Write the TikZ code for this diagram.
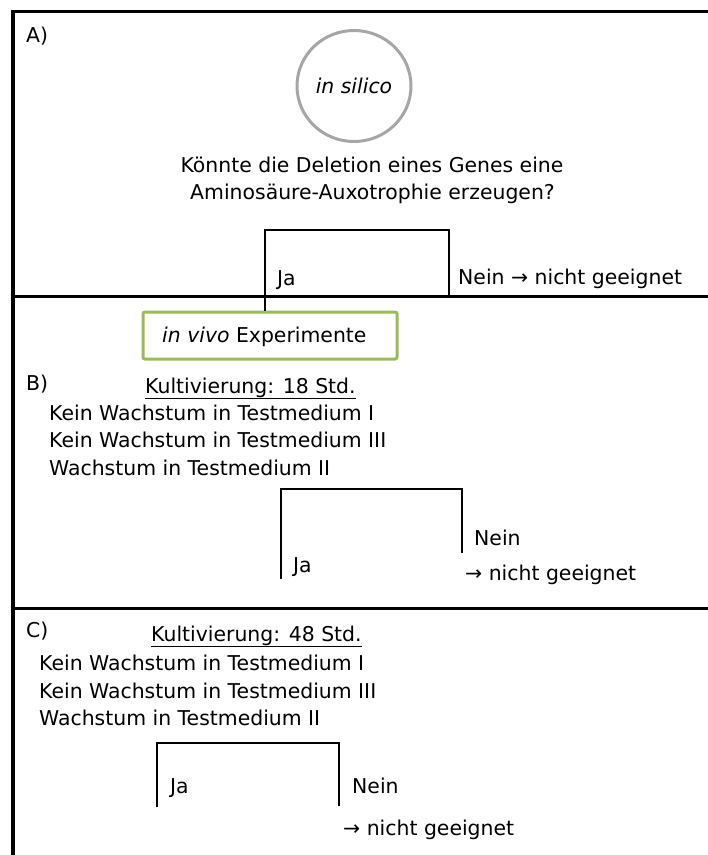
\documentclass[tikz,border=0pt]{standalone}
\usepackage{fontspec}
\setmainfont{DejaVu Sans}
\usetikzlibrary{shapes.geometric}
\definecolor{boxgreen}{RGB}{155,187,89}
\definecolor{circgray}{RGB}{166,166,166}
\tikzset{
  txt/.style={anchor=base west, inner sep=0pt, font=\fontsize{20.4}{24}\selectfont},
  txtc/.style={anchor=base, inner sep=0pt, font=\fontsize{20.4}{24}\selectfont},
  frame/.style={line width=3.5pt, line cap=rect},
  divider/.style={line width=3pt},
  bracket/.style={line width=2.2pt},
}
\begin{document}
\begin{tikzpicture}[x=1pt,y=-1pt]
\useasboundingbox (0,0) rectangle (708,855);
% frame and dividers
\coordinate (tl) at (13,11.5);
\coordinate (tr) at (708,11.5);
\coordinate (bl) at (13,855);
\draw[frame] (tr) -- (tl) -- (bl);
\coordinate (d1l) at (13,296);
\coordinate (d1r) at (708,296);
\coordinate (d2l) at (13,608);
\coordinate (d2r) at (708,608);
\draw[divider] (d1l) -- (d1r);
\draw[divider] (d2l) -- (d2r);

% section A
\node[txt] (lblA) at (26,42) {A)};
\node[ellipse, draw=circgray, line width=3pt, minimum width=114pt, minimum height=111pt, inner sep=0pt,
      font=\fontsize{20.4}{24}\selectfont\itshape] (silico) at (354,86) {in silico};
\node[txtc] (q1) at (372,172) {Könnte die Deletion eines Genes eine};
\node[txtc] (q2) at (372.5,199) {Aminosäure-Auxotrophie erzeugen?};
\node[txt] (jaA) at (277,285) {Ja};
\node[txt] (neinA) at (458,284) {Nein → nicht geeignet};

% in vivo box
\node[draw=boxgreen, line width=3pt, rounded corners=2pt, minimum width=254pt, minimum height=47pt, inner sep=0pt] (vivo) at (270,335.5) {};
\node[txt] (vivotxt) at (162,342) {\textit{in vivo} Experimente};

\coordinate (aTL) at (265,230);
\coordinate (aTR) at (449,230);
\coordinate (aBR) at (449,295);
\draw[bracket] (vivo.north -| aTL) -- (aTL) -- (aTR) -- (aBR);

% section B
\node[txt] (lblB) at (26,390) {B)};
\node[txt] (kB) at (145,393) {\underline{Kultivierung: 18 Std.}};
\node[txt] (b1) at (49,420) {Kein Wachstum in Testmedium I};
\node[txt] (b2) at (49,447) {Kein Wachstum in Testmedium III};
\node[txt] (b3) at (49,475) {Wachstum in Testmedium II};
\coordinate (bBL) at (281,579);
\coordinate (bTL) at (281,489);
\coordinate (bTR) at (462,489);
\coordinate (bBR) at (462,553);
\draw[bracket] (bBL) -- (bTL) -- (bTR) -- (bBR);
\node[txt] (jaB) at (293,572) {Ja};
\node[txt] (neinB) at (474,545) {Nein};
\node[txt] (nichtB) at (465,580) {→ nicht geeignet};

% section C
\node[txt] (lblC) at (26,637) {C)};
\node[txt] (kC) at (151,641) {\underline{Kultivierung: 48 Std.}};
\node[txt] (c1) at (39,670) {Kein Wachstum in Testmedium I};
\node[txt] (c2) at (39,698) {Kein Wachstum in Testmedium III};
\node[txt] (c3) at (39,725) {Wachstum in Testmedium II};
\coordinate (cBL) at (157,807);
\coordinate (cTL) at (157,743);
\coordinate (cTR) at (339,743);
\coordinate (cBR) at (339,806);
\draw[bracket] (cBL) -- (cTL) -- (cTR) -- (cBR);
\node[txt] (jaC) at (170,793) {Ja};
\node[txt] (neinC) at (352,793) {Nein};
\node[txt] (nichtC) at (343,835) {→ nicht geeignet};
\end{tikzpicture}
\end{document}
